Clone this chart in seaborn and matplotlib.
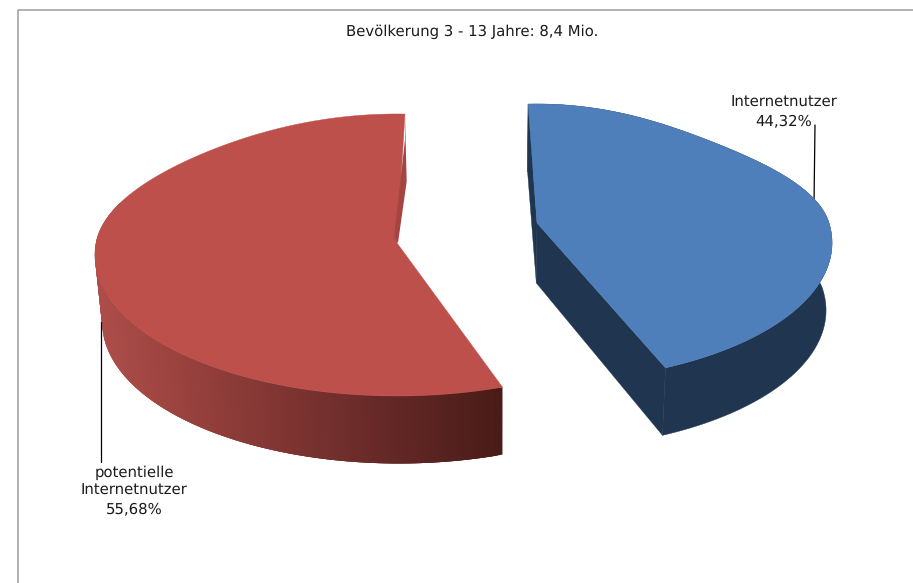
import numpy as np
import matplotlib
matplotlib.use("Agg")
import matplotlib.pyplot as plt
from matplotlib.patches import Polygon
import seaborn as sns

# ---- data ----
title = "Bevölkerung 3 - 13 Jahre: 8,4 Mio."
categories = [["Internetnutzer"], ["potentielle", "Internetnutzer"]]
shares = [44.32, 55.68]
share_labels = ["44,32%", "55,68%"]

# ---- style / layout ----
sns.set_theme(style="white")
plt.rcParams['font.family'] = ['DejaVu Sans']
plt.rcParams['text.hinting'] = 'none'
top_colors = sns.color_palette(["#4F7FBB", "#BE504C"])
side_blue = "#1F3550"
side_red_sliver = "#A54542"
red_wall = sns.blend_palette(["#AD4D49", "#8C3B38", "#6A2B29", "#4A1C18"], n_colors=256, as_cmap=True)
text_color = "#1a1a1a"

# per wedge projection: apex, radii, perspective, start angle (deg, clockwise from back), back flattening
geom = [
    dict(ax=537, ay=223, rx=292, ry=136, k=0.143, start=-2.0, flat=0.075),
    dict(ax=397, ay=243, rx=301, ry=140, k=0.085, start=161.2, flat=0.04),
]
VX, SHRINK, H0, H1 = 500, 0.018, 60, 7.5
label_pos = [(784, 107), (134, 477)]
LINE_STEP = 18


def project(g, theta):
    t = np.radians(theta)
    r = 1 - g["flat"] * np.sin(2 * t) ** 2 * (np.cos(t) > 0)
    u, v = r * np.sin(t), r * np.cos(t)
    d = 1 + g["k"] * v
    return g["ax"] + g["rx"] * u / d, g["ay"] - g["ry"] * v / d


def lower(x, y, r=1.0):
    return x + (VX - x) * SHRINK, y + H0 + H1 * r


fig = plt.figure(figsize=(9.13, 5.83), dpi=100, facecolor="white")
ax = fig.add_axes([0, 0, 1, 1])
ax.set_xlim(0, 913)
ax.set_ylim(583, 0)
ax.axis("off")

# chart frame
ax.plot([17.5, 17.5, 913], [583, 9.5, 9.5], color="#ABABAB", lw=1.3, zorder=1)

# leader lines
ax.plot([815, 814], [125, 204], color="black", lw=0.9, zorder=2)
ax.plot([101, 101], [322, 462], color="black", lw=0.9, zorder=5)

spans = np.array(shares) / sum(shares) * 360
for i, (g, span) in enumerate(zip(geom, spans)):
    th = np.linspace(g["start"], g["start"] + span, 241)
    xs, ys = project(g, th)
    xb, yb = lower(xs, ys)
    ax_b = lower(g["ax"], g["ay"], 0.0)
    side = side_blue if i == 0 else side_red_sliver

    if i == 0:
        # straight inner walls
        for j in (0, -1):
            ax.add_patch(Polygon([(g["ax"], g["ay"]), (xs[j], ys[j]), (xb[j], yb[j]), ax_b],
                                 closed=True, fc=side, ec=side, lw=0.3, zorder=3))
        # outer wall in one piece
        ax.add_patch(Polygon(np.column_stack([np.r_[xs, xb[::-1]], np.r_[ys, yb[::-1]]]),
                             closed=True, fc=side, ec=side, lw=0.3, zorder=3))
    else:
        # outer wall: overlapping strips carry the gradient, front part only
        front = np.where(np.cos(np.radians(th)) < 0.3)[0]
        for a in front[:-1]:
            e = min(a + 3, front[-1])
            col = red_wall(np.clip((xs[a] - 100) / 400, 0, 1))
            ax.add_patch(Polygon([(xs[a], ys[a]), (xs[e], ys[e]), (xb[e], yb[e]), (xb[a], yb[a])],
                                 closed=True, fc=col, ec="none", zorder=3))
    # top face
    ax.add_patch(Polygon(np.column_stack([np.r_[g["ax"], xs], np.r_[g["ay"], ys]]),
                         closed=True, fc=top_colors[i], ec=top_colors[i], lw=0.3, zorder=4))
    if i == 1:
        # end wall of the red slice, seen as a thin sliver at its back
        ax.add_patch(Polygon([(xs[-1], ys[-1]), (xb[-1], yb[-1]),
                              (g["ax"] + 1, g["ay"]), (g["ax"] - 3, g["ay"] - 6),
                              (xs[-1], ys[-1] + 26)],
                             closed=True, fc=side, ec="none", zorder=5))

ax.text(472, 36, title, ha="center", va="baseline", fontsize=10.7, color=text_color, zorder=6)
for (x, y), lines, s in zip(label_pos, categories, share_labels):
    for n, line in enumerate(lines + [s]):
        ax.text(x, y + n * LINE_STEP, line, ha="center", va="baseline", fontsize=10.7,
                color=text_color, zorder=6)

fig.savefig("out.png", dpi=100, facecolor="white")
